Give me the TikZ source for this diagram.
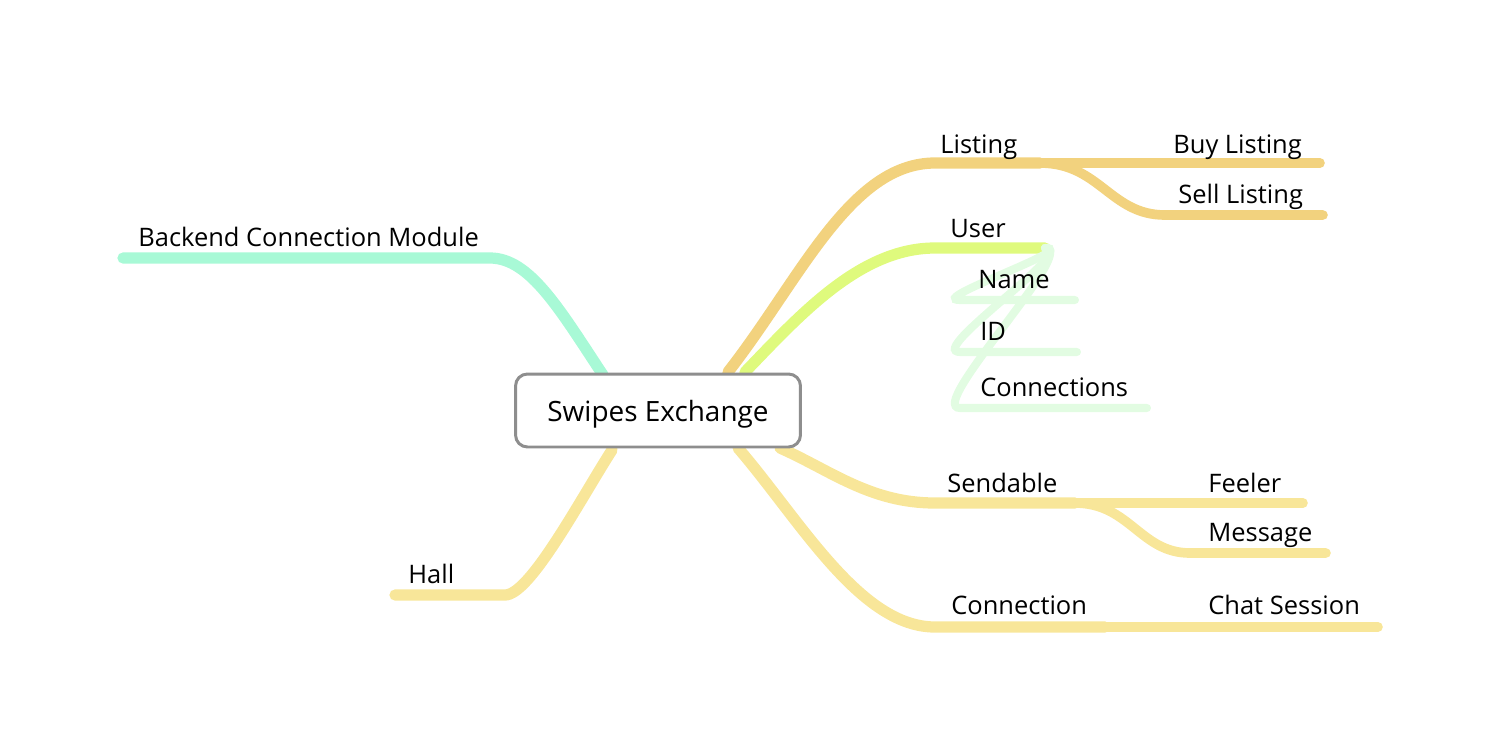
\documentclass[tikz,border=0pt]{standalone}
\usepackage{fontspec}
\setmainfont{Open Sans}
\usetikzlibrary{positioning, calc, backgrounds}

\definecolor{mint}{HTML}{A8F9D6}
\definecolor{straw}{HTML}{F8E699}
\definecolor{amber}{HTML}{F2D27E}
\definecolor{lime}{HTML}{DFFA7D}
\definecolor{paleleaf}{HTML}{E2FCE2}
\definecolor{boxgray}{HTML}{8E8E8E}

\tikzset{
  branch/.style={line width=6.4pt, line cap=round},
  twig/.style={line width=5.5pt, line cap=round},
  leaf/.style={line width=4.6pt, line cap=round},
  topic/.style={anchor=base west, inner sep=0pt, font=\fontsize{14.5}{17}\selectfont},
  central/.style={draw=boxgray, line width=1.7pt, rounded corners=6.8pt, fill=white,
    minimum width=5.7cm, minimum height=1.46cm, text depth=0pt,
    font=\fontsize{15.9}{19}\selectfont}
}

\begin{document}
\begin{tikzpicture}[x=0.02cm, y=-0.02cm]
    \useasboundingbox (0,0) rectangle (1501,748);

    % Central topic
    \node[central] (root) at (658,410.5) {Swipes Exchange};

    % Topic labels
    \node[topic] (backend) at (138,246) {Backend Connection Module};
    \node[topic] (hall) at (408,583) {Hall};
    \node[topic] (listing) at (940,153) {Listing};
    \node[topic] (buy) at (1173,153) {Buy Listing};
    \node[topic] (sell) at (1178,203) {Sell Listing};
    \node[topic] (user) at (950,237) {User};
    \node[topic] (name) at (978,288) {Name};
    \node[topic] (id) at (980,340) {ID};
    \node[topic] (conns) at (980,396) {Connections};
    \node[topic] (sendable) at (947,492) {Sendable};
    \node[topic] (feeler) at (1208,492) {Feeler};
    \node[topic] (message) at (1208,541) {Message};
    \node[topic] (connection) at (951,614) {Connection};
    \node[topic] (chat) at (1208,614) {Chat Session};

    % Branch points
    \coordinate (backend-a) at (603,375);
    \coordinate (backend-b) at (490,258);
    \coordinate (backend-c) at (123,258);
    \coordinate (hall-a) at (612,450);
    \coordinate (hall-b) at (505,595);
    \coordinate (hall-c) at (395,595);
    \coordinate (listing-a) at (728,372);
    \coordinate (listing-b) at (935,163);
    \coordinate (listing-c) at (1040,163);
    \coordinate (buy-b) at (1320,163);
    \coordinate (sell-a) at (1165,215);
    \coordinate (sell-b) at (1323,215);
    \coordinate (user-a) at (745,372);
    \coordinate (user-b) at (935,248);
    \coordinate (user-c) at (1045,248);
    \coordinate (name-a) at (960,300);
    \coordinate (name-b) at (1075,300);
    \coordinate (id-a) at (960,352);
    \coordinate (id-b) at (1077,352);
    \coordinate (conns-a) at (960,408);
    \coordinate (conns-b) at (1147,408);
    \coordinate (sendable-a) at (780,448);
    \coordinate (sendable-b) at (935,503);
    \coordinate (sendable-c) at (1075,503);
    \coordinate (feeler-b) at (1303,503);
    \coordinate (message-a) at (1190,553);
    \coordinate (message-b) at (1326,553);
    \coordinate (connection-a) at (738,448);
    \coordinate (connection-b) at (935,627);
    \coordinate (connection-c) at (1105,627);
    \coordinate (chat-b) at (1378,627);

    % Branches
    \begin{scope}[on background layer]
    \draw[branch, mint] (backend-a) .. controls +(-43,-65) and +(40,0) .. (backend-b) -- (backend-c);
    \draw[branch, straw] (hall-a) .. controls +(-32,50) and +(25,0) .. (hall-b) -- (hall-c);
    \draw[branch, amber] (listing-a) .. controls +(72,-92) and +(-85,0) .. (listing-b) -- (listing-c);
    \draw[twig, amber] (listing-c) -- (buy-b);
    \draw[twig, amber] (listing-c) .. controls +(60,0) and +(-55,0) .. (sell-a) -- (sell-b);
    \draw[branch, lime] (user-a) .. controls +(55,-57) and +(-75,0) .. (user-b) -- (user-c);
    \draw[leaf, paleleaf] (user-c) .. controls +(35,0) and +(-35,0) .. (name-a) -- (name-b);
    \draw[leaf, paleleaf] (user-c) .. controls +(35,0) and +(-35,0) .. (id-a) -- (id-b);
    \draw[leaf, paleleaf] (user-c) .. controls +(35,0) and +(-35,0) .. (conns-a) -- (conns-b);
    \draw[branch, straw] (sendable-a) .. controls +(50,22) and +(-65,0) .. (sendable-b) -- (sendable-c);
    \draw[twig, straw] (sendable-c) -- (feeler-b);
    \draw[twig, straw] (sendable-c) .. controls +(55,0) and +(-50,0) .. (message-a) -- (message-b);
    \draw[branch, straw] (connection-a) .. controls +(62,72) and +(-75,0) .. (connection-b) -- (connection-c);
    \draw[twig, straw] (connection-c) -- (chat-b);
    \end{scope}
\end{tikzpicture}
\end{document}
